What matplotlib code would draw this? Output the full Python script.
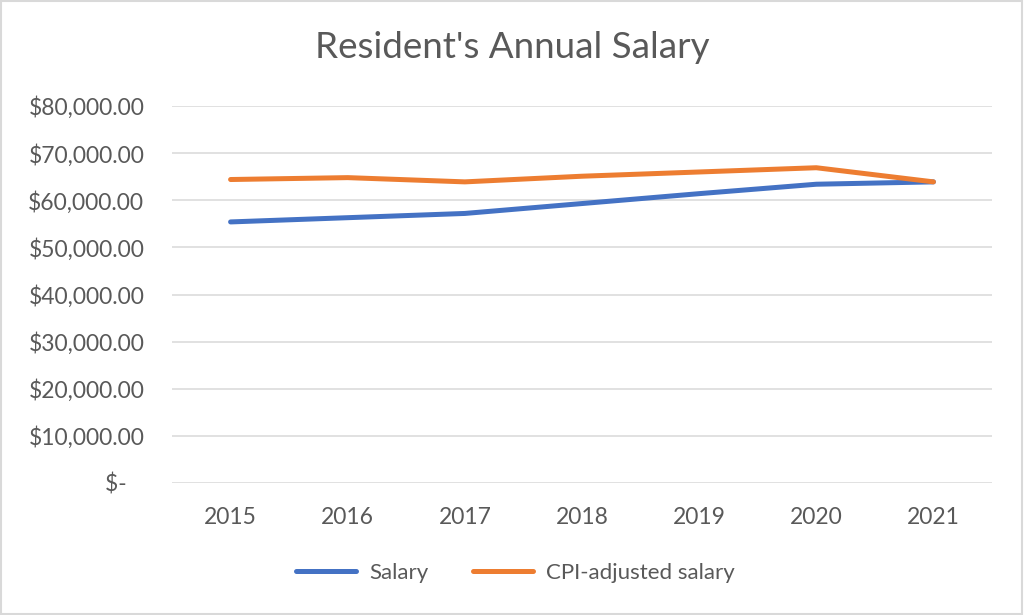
import matplotlib
matplotlib.use("Agg")
import matplotlib.pyplot as plt
from matplotlib.patches import Rectangle

years = ["2015", "2016", "2017", "2018", "2019", "2020", "2021"]
salary = [55400, 56300, 57200, 59300, 61400, 63400, 63900]
cpi_adjusted = [64400, 64800, 63900, 65100, 66000, 66900, 63900]
ytick_values = [0, 10000, 20000, 30000, 40000, 50000, 60000, 70000, 80000]
ytick_labels = ["$-   ", "$10,000.00", "$20,000.00", "$30,000.00", "$40,000.00",
                "$50,000.00", "$60,000.00", "$70,000.00", "$80,000.00"]

plt.rcParams['font.family'] = ['Lato', 'DejaVu Sans']
text_color = "#595959"

fig = plt.figure(figsize=(10.24, 6.15), dpi=100)
ax = fig.add_axes([172/1024, 1-483/615, 820/1024, 377/615])

x = list(range(len(years)))
ax.plot(x, salary, color="#4472C4", lw=3.6, solid_capstyle="round", label="Salary")
ax.plot(x, cpi_adjusted, color="#ED7D31", lw=3.6, solid_capstyle="round", label="CPI-adjusted salary")

ax.set_xlim(-0.5, len(years) - 0.5)
ax.set_ylim(0, 80000)
ax.set_xticks(x)
ax.set_xticklabels(years)
ax.set_yticks(ytick_values)
ax.set_yticklabels(ytick_labels)
ax.tick_params(axis="both", length=0, labelsize=16.5, colors=text_color)
ax.tick_params(axis="y", pad=20)
ax.tick_params(axis="x", pad=17)
ax.grid(axis="y", color="#D9D9D9", lw=1.1)
ax.set_axisbelow(True)
for s in ax.spines.values():
    s.set_visible(False)

fig.text(0.5, 1-48/615, "Resident's Annual Salary", ha="center", va="center",
         fontsize=26.5, color=text_color)

leg = fig.legend(loc="center", bbox_to_anchor=(0.503, 1-573/615), ncol=2, frameon=False,
                 fontsize=16, handlelength=2.7, handletextpad=0.6, columnspacing=2.0,
                 labelcolor=text_color)

fig.add_artist(Rectangle((0.001, 0.001), 0.997, 0.997, transform=fig.transFigure,
                         fill=False, edgecolor="#D9D9D9", lw=1.5))

fig.savefig("out.png", dpi=100, facecolor="white")
